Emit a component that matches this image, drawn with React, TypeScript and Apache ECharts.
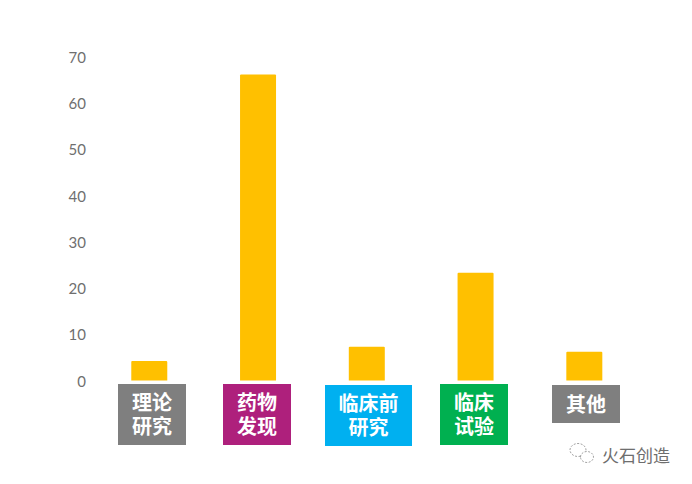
import React, { useEffect, useRef } from "react";
import * as echarts from "echarts";

const categories = ["理论\n研究", "药物\n发现", "临床前\n研究", "临床\n试验", "其他"];
const values = [4.2, 66.2, 7.3, 23.3, 6.2];
const yTicks = [0, 10, 20, 30, 40, 50, 60, 70];
const boxColors = ["#7f7f7f", "#ae207c", "#00b0f0", "#00b050", "#7f7f7f"];
const watermark = "火石创造";

// label boxes: left, top, width, height (layout only)
const boxes = [
  [118, 384, 68, 61],
  [223, 384, 68, 61],
  [325, 385, 87, 61],
  [440, 384, 68, 61],
  [552, 385, 68, 38],
];

const cjk = '"Noto Sans CJK SC", "Noto Sans", sans-serif';

export default function App() {
  const ref = useRef<HTMLDivElement>(null);
  useEffect(() => {
    const chart = echarts.init(ref.current!, null, { renderer: "svg" });
    const graphic: any[] = [];
    categories.forEach((c, i) => {
      const [x, y, w, h] = boxes[i];
      graphic.push({
        type: "rect",
        shape: { x, y, width: w, height: h },
        style: { fill: boxColors[i] },
      });
      graphic.push({
        type: "text",
        x: x + w / 2,
        y: y + h / 2 - 1,
        style: {
          text: c,
          fill: "#ffffff",
          font: `bold 20px ${cjk}`,
          lineHeight: 24,
          align: "center",
          verticalAlign: "middle",
        },
      });
    });
    graphic.push({
      type: "text",
      x: 602,
      y: 454,
      style: {
        text: watermark,
        fill: "#6e6e6e",
        font: `17px ${cjk}`,
        verticalAlign: "middle",
      },
    });
    graphic.push(
      {
        type: "ellipse",
        shape: { cx: 578, cy: 450, rx: 8, ry: 6.5 },
        style: { fill: "#fff", stroke: "#8a8a8a", lineWidth: 0.8, lineDash: [2, 1.5] },
      },
      {
        type: "ellipse",
        shape: { cx: 587, cy: 457, rx: 6.5, ry: 5.5 },
        style: { fill: "#fff", stroke: "#8a8a8a", lineWidth: 0.8, lineDash: [2, 1.5] },
      }
    );
    chart.setOption({
      animation: false,
      backgroundColor: "#ffffff",
      grid: { left: 94.9, right: 53.3, top: 57, bottom: 103.5 },
      xAxis: {
        type: "category",
        data: categories,
        axisLine: { show: false },
        axisTick: { show: false },
        axisLabel: { show: false },
      },
      yAxis: {
        type: "value",
        min: 0,
        max: 70,
        interval: 10,
        splitLine: { show: false },
        axisLine: { show: false },
        axisTick: { show: false },
        axisLabel: {
          color: "#6f6f6f",
          fontSize: 15,
          fontFamily: "Lato, sans-serif",
          margin: 9,
          customValues: yTicks,
        },
      },
      series: [
        {
          type: "bar",
          data: values,
          barWidth: 36,
          itemStyle: { color: "#ffc000", borderRadius: [1, 1, 0, 0] },
        },
      ],
      graphic,
    });
    return () => chart.dispose();
  }, []);
  return (
    <div
      ref={ref}
      style={{ position: "absolute", left: 0, top: 0, width: 692, height: 484 }}
    />
  );
}
